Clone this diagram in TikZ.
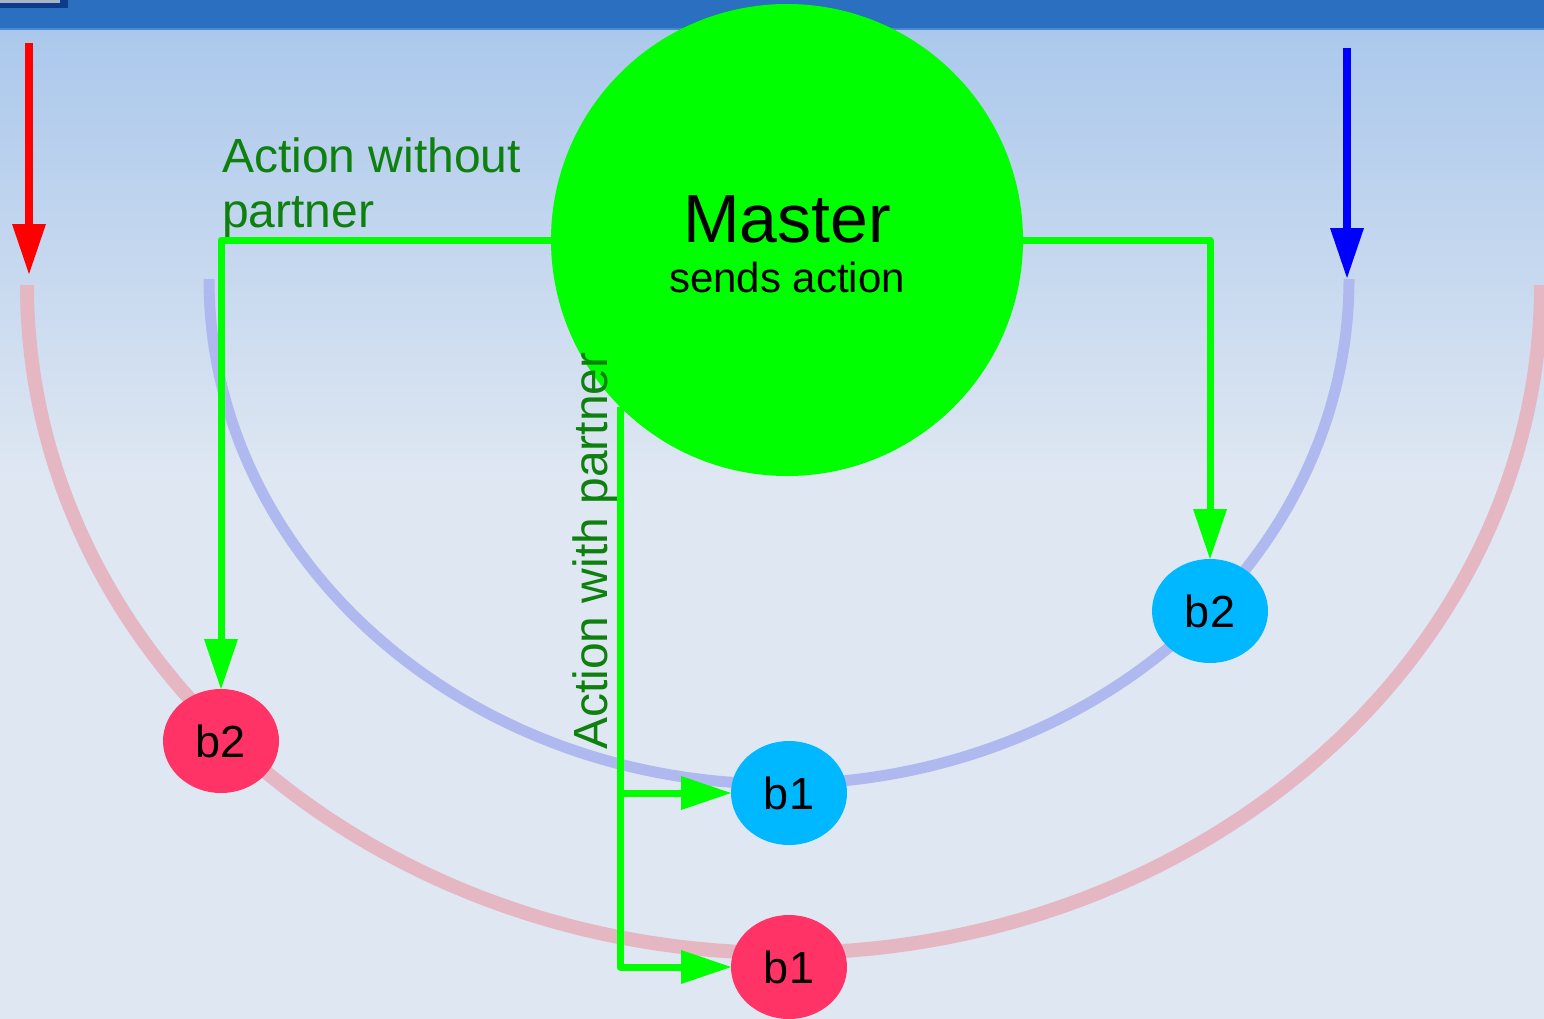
\documentclass[tikz,border=0pt]{standalone}
\usepackage{fontspec}
\setmainfont{Liberation Sans}
\usetikzlibrary{arrows.meta,shapes.geometric}

\definecolor{barblue}{HTML}{2A6FC0}
\definecolor{barline}{HTML}{4A88D0}
\definecolor{tabdark}{HTML}{0E3C8C}
\definecolor{tablight}{HTML}{A8B4C4}
\definecolor{bgtop}{HTML}{ABC8EC}
\definecolor{bgbot}{HTML}{DFE7F2}
\definecolor{pinkarc}{HTML}{E4B7C2}
\definecolor{bluearc}{HTML}{B0B8F0}
\definecolor{redball}{HTML}{FF3366}
\definecolor{blueball}{HTML}{00B8FF}
\definecolor{flowgreen}{HTML}{00FF00}
\definecolor{labelgreen}{HTML}{0E800E}

\begin{document}
\begin{tikzpicture}[x=1pt,y=1pt,
  bigtip/.style={-{Triangle[length=50pt,width=34pt,line width=0pt]}},
  flow/.style={draw=flowgreen, line width=7pt, line join=round, bigtip},
  feed/.style={line width=7.5pt, bigtip},
  ball/.style={ellipse, minimum width=116pt, minimum height=104pt, inner sep=0pt,
    outer sep=0pt, font=\fontsize{45}{48}\selectfont},
  redb/.style={ball, fill=redball},
  blueb/.style={ball, fill=blueball},
  lbl/.style={text=labelgreen, font=\fontsize{48}{54}\selectfont, inner sep=0pt}
]
\useasboundingbox (0,0) rectangle (1544,-1019);

% background and title bar
\fill[bgbot] (0,0) rectangle (1544,-1019);
\shade[top color=bgtop, bottom color=bgbot] (0,-29) rectangle (1544,-480);
\fill[barblue] (0,0) rectangle (1544,-29);
\draw[barline, line width=1.5pt] (0,-29) -- (1544,-29);
\fill[tabdark] (0,0) rectangle (68,-8);
\fill[tablight] (0,0) rectangle (60,-3);

% the two orbits
\draw[pinkarc, line width=14pt] (27,-285) arc[start angle=180, end angle=360, x radius=757, y radius=668];
\draw[bluearc, line width=11pt] (209,-279) arc[start angle=180, end angle=360, x radius=570, y radius=505];

% entry arrows
\coordinate (redtop) at (29,-43);
\coordinate (redend) at (29,-274);
\coordinate (bluetop) at (1347,-48);
\coordinate (blueend) at (1347,-278);
\draw[feed, red] (redtop) -- (redend);
\draw[feed, blue] (bluetop) -- (blueend);

% master
\node[circle, fill=flowgreen, minimum size=472pt, inner sep=0pt, outer sep=0pt] (master) at (787,-240) {};
\node[anchor=base, inner sep=0pt, font=\fontsize{68}{70}\selectfont] (mtitle) at (787,-242) {Master};
\node[anchor=base, inner sep=0pt, font=\fontsize{42}{44}\selectfont] (msub) at (787,-292) {sends action};

% balls
\node[redb] (rb2) at (221,-741) {b2};
\node[redb] (rb1) at (789,-967) {b1};
\node[blueb] (bb2) at (1210,-611) {b2};
\node[blueb] (bb1) at (789,-793) {b1};

% action connectors
\draw[flow] (master.west) -| (rb2.north);
\draw[flow] (master.east) -| (bb2.north);
\draw[flow] (master.225) |- (rb1.west);
\draw[flow] (master.225 |- bb1.west) -- (bb1.west);

% labels
\node[lbl, anchor=base west] (lwo1) at (222,-173) {Action without};
\node[lbl, anchor=base west] (lwo2) at (222,-227) {partner};
\node[lbl, anchor=base west, rotate=90] (lwith) at (607,-750) {Action with partner};
\end{tikzpicture}
\end{document}
